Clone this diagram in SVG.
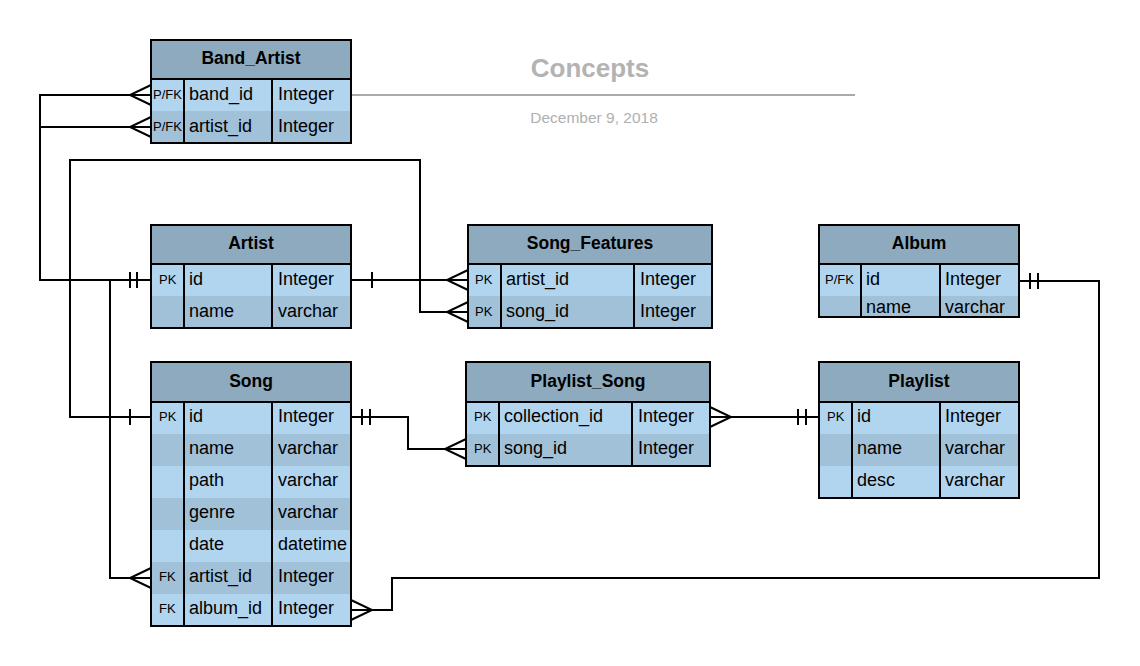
<svg xmlns="http://www.w3.org/2000/svg" width="1140" height="666" viewBox="0 0 1140 666">
<style>
.hd{fill:#8eaabf}
.lt{fill:#b2d5ef}
.dk{fill:#a1c1d9}
.bd{fill:none;stroke:#000;stroke-width:2}
.dv{stroke:#000;stroke-width:2}
.t{font-family:"Liberation Sans",Arial,sans-serif;fill:#000}
.h{font-size:17.5px;font-weight:bold;text-anchor:middle}
.f{font-size:18px}
.k{font-size:13px}
.c{fill:none;stroke:#000;stroke-width:2}
</style>
<rect width="1140" height="666" fill="#fff"/>
<g id="title">
<text x="590" y="77" class="t" style="font-size:26px;font-weight:bold;fill:#b3b3b3" text-anchor="middle">Concepts</text>
<line x1="352" y1="95" x2="855" y2="95" stroke="#aaa" stroke-width="2"/>
<text x="594" y="123" class="t" style="font-size:15.5px;fill:#b0b0b0" text-anchor="middle">December 9, 2018</text>
</g>
<g id="connectors">
<path class="c" d="M151,95 H40 V280 H151"/>
<path class="c" d="M151,127 H40"/>
<path class="c" d="M151,578 H110 V280 H151"/>
<path class="c" d="M151,417 H70 V160 H420 V312 H468"/>
<path class="c" d="M351,280 H468"/>
<path class="c" d="M351,417 H408 V449 H466"/>
<path class="c" d="M710,417 H819"/>
<path class="c" d="M1019,281 H1099 V578 H392 V610 H351"/>
<path class="c" d="M151,85 L130,95 L151,105"/>
<path class="c" d="M151,117 L130,127 L151,137"/>
<path class="c" d="M151,568 L130,578 L151,588"/>
<path class="c" d="M468,302 L447,312 L468,322"/>
<path class="c" d="M468,270 L447,280 L468,290"/>
<path class="c" d="M466,439 L445,449 L466,459"/>
<path class="c" d="M710,407 L731,417 L710,427"/>
<path class="c" d="M351,600 L372,610 L351,620"/>
<path class="c" d="M130,272 V288 M137,272 V288"/>
<path class="c" d="M130,409 V425"/>
<path class="c" d="M372,272 V288"/>
<path class="c" d="M362,409 V425 M370,409 V425"/>
<path class="c" d="M798,409 V425 M806,409 V425"/>
<path class="c" d="M1030,273 V289 M1038,273 V289"/>
</g>
<g id="Band_Artist">
<rect class="hd" x="151" y="40" width="200" height="39"/>
<rect class="lt" x="151" y="79" width="200" height="32"/>
<rect class="dk" x="151" y="111" width="200" height="32"/>
<line class="dv" x1="151" y1="79" x2="351" y2="79"/>
<line class="dv" x1="184" y1="79" x2="184" y2="143"/>
<line class="dv" x1="272" y1="79" x2="272" y2="143"/>
<rect class="bd" x="151" y="40" width="200" height="103"/>
<text class="t h" x="251" y="64">Band_Artist</text>
<text class="t k" x="153" y="99">P/FK</text><text class="t f" x="189" y="100">band_id</text><text class="t f" x="278" y="100">Integer</text>
<text class="t k" x="153" y="131">P/FK</text><text class="t f" x="189" y="132">artist_id</text><text class="t f" x="278" y="132">Integer</text>
</g>
<g id="Artist">
<rect class="hd" x="151" y="225" width="200" height="39"/>
<rect class="lt" x="151" y="264" width="200" height="32"/>
<rect class="dk" x="151" y="296" width="200" height="32"/>
<line class="dv" x1="151" y1="264" x2="351" y2="264"/>
<line class="dv" x1="184" y1="264" x2="184" y2="328"/>
<line class="dv" x1="272" y1="264" x2="272" y2="328"/>
<rect class="bd" x="151" y="225" width="200" height="103"/>
<text class="t h" x="251" y="249">Artist</text>
<text class="t k" x="159" y="284">PK</text><text class="t f" x="189" y="285">id</text><text class="t f" x="278" y="285">Integer</text>
<text class="t f" x="189" y="317">name</text><text class="t f" x="278" y="317">varchar</text>
</g>
<g id="Song_Features">
<rect class="hd" x="468" y="225" width="244" height="39"/>
<rect class="lt" x="468" y="264" width="244" height="32"/>
<rect class="dk" x="468" y="296" width="244" height="32"/>
<line class="dv" x1="468" y1="264" x2="712" y2="264"/>
<line class="dv" x1="501" y1="264" x2="501" y2="328"/>
<line class="dv" x1="634" y1="264" x2="634" y2="328"/>
<rect class="bd" x="468" y="225" width="244" height="103"/>
<text class="t h" x="590" y="249">Song_Features</text>
<text class="t k" x="475" y="284">PK</text><text class="t f" x="506" y="285">artist_id</text><text class="t f" x="640" y="285">Integer</text>
<text class="t k" x="475" y="316">PK</text><text class="t f" x="506" y="317">song_id</text><text class="t f" x="640" y="317">Integer</text>
</g>
<g id="Album">
<rect class="hd" x="819" y="225" width="200" height="39"/>
<rect class="lt" x="819" y="264" width="200" height="32"/>
<rect class="dk" x="819" y="296" width="200" height="21"/>
<line class="dv" x1="819" y1="264" x2="1019" y2="264"/>
<line class="dv" x1="861" y1="264" x2="861" y2="317"/>
<line class="dv" x1="940" y1="264" x2="940" y2="317"/>
<rect class="bd" x="819" y="225" width="200" height="92"/>
<text class="t h" x="919" y="249">Album</text>
<text class="t k" x="825" y="284">P/FK</text><text class="t f" x="866" y="285">id</text><text class="t f" x="945" y="285">Integer</text>
<text class="t f" x="866" y="313">name</text><text class="t f" x="945" y="313">varchar</text>
</g>
<g id="Song">
<rect class="hd" x="151" y="362" width="200" height="40"/>
<rect class="lt" x="151" y="402" width="200" height="32"/>
<rect class="dk" x="151" y="434" width="200" height="32"/>
<rect class="lt" x="151" y="466" width="200" height="32"/>
<rect class="dk" x="151" y="498" width="200" height="32"/>
<rect class="lt" x="151" y="530" width="200" height="32"/>
<rect class="dk" x="151" y="562" width="200" height="32"/>
<rect class="lt" x="151" y="594" width="200" height="32"/>
<line class="dv" x1="151" y1="402" x2="351" y2="402"/>
<line class="dv" x1="184" y1="402" x2="184" y2="626"/>
<line class="dv" x1="272" y1="402" x2="272" y2="626"/>
<rect class="bd" x="151" y="362" width="200" height="264"/>
<text class="t h" x="251" y="387">Song</text>
<text class="t k" x="159" y="421">PK</text><text class="t f" x="189" y="422">id</text><text class="t f" x="278" y="422">Integer</text>
<text class="t f" x="189" y="454">name</text><text class="t f" x="278" y="454">varchar</text>
<text class="t f" x="189" y="486">path</text><text class="t f" x="278" y="486">varchar</text>
<text class="t f" x="189" y="518">genre</text><text class="t f" x="278" y="518">varchar</text>
<text class="t f" x="189" y="550">date</text><text class="t f" x="278" y="550">datetime</text>
<text class="t k" x="159" y="581">FK</text><text class="t f" x="189" y="582">artist_id</text><text class="t f" x="278" y="582">Integer</text>
<text class="t k" x="159" y="613">FK</text><text class="t f" x="189" y="614">album_id</text><text class="t f" x="278" y="614">Integer</text>
</g>
<g id="Playlist_Song">
<rect class="hd" x="466" y="362" width="244" height="40"/>
<rect class="lt" x="466" y="402" width="244" height="32"/>
<rect class="dk" x="466" y="434" width="244" height="32"/>
<line class="dv" x1="466" y1="402" x2="710" y2="402"/>
<line class="dv" x1="499" y1="402" x2="499" y2="466"/>
<line class="dv" x1="632" y1="402" x2="632" y2="466"/>
<rect class="bd" x="466" y="362" width="244" height="104"/>
<text class="t h" x="588" y="387">Playlist_Song</text>
<text class="t k" x="474" y="421">PK</text><text class="t f" x="504" y="422">collection_id</text><text class="t f" x="638" y="422">Integer</text>
<text class="t k" x="474" y="453">PK</text><text class="t f" x="504" y="454">song_id</text><text class="t f" x="638" y="454">Integer</text>
</g>
<g id="Playlist">
<rect class="hd" x="819" y="362" width="200" height="40"/>
<rect class="lt" x="819" y="402" width="200" height="32"/>
<rect class="dk" x="819" y="434" width="200" height="32"/>
<rect class="lt" x="819" y="466" width="200" height="32"/>
<line class="dv" x1="819" y1="402" x2="1019" y2="402"/>
<line class="dv" x1="852" y1="402" x2="852" y2="498"/>
<line class="dv" x1="940" y1="402" x2="940" y2="498"/>
<rect class="bd" x="819" y="362" width="200" height="136"/>
<text class="t h" x="919" y="387">Playlist</text>
<text class="t k" x="827" y="421">PK</text><text class="t f" x="857" y="422">id</text><text class="t f" x="945" y="422">Integer</text>
<text class="t f" x="857" y="454">name</text><text class="t f" x="945" y="454">varchar</text>
<text class="t f" x="857" y="486">desc</text><text class="t f" x="945" y="486">varchar</text>
</g>
</svg>
